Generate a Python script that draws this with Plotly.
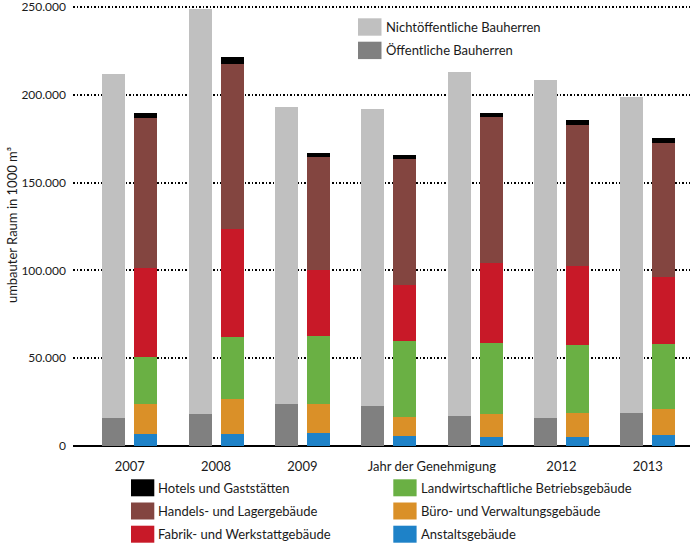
import plotly.graph_objects as go

# ---- data ----
years = [2007, 2008, 2009, 2010, 2011, 2012, 2013]
x_tickvals = [2007, 2008, 2009, 2010.5, 2012, 2013]
x_ticktext = ["2007", "2008", "2009", "Jahr der Genehmigung", "2012", "2013"]
y_tickvals = [0, 50000, 100000, 150000, 200000, 250000]

# Bauherren (grey bar)
oeffentlich = [16000, 18500, 24000, 22500, 17000, 16000, 19000]
nichtoeffentlich = [196000, 230500, 169000, 169500, 196000, 192500, 180000]

# Gebäudearten (coloured bar), bottom to top
anstalt = [6600, 7000, 7400, 5700, 5300, 4900, 6000]
buero = [17100, 19500, 16600, 10800, 13100, 13800, 15200]
landwirt = [26900, 35600, 38600, 43200, 40000, 38700, 37100]
fabrik = [50900, 61600, 37800, 32200, 45800, 45000, 37700]
handel = [85300, 94100, 64000, 71400, 83000, 80300, 76300]
hotels = [3000, 4000, 2500, 2650, 2700, 3000, 3100]

# ---- styles ----
FONT = "Lato"
FS = 13
TXT = "#1a1a1a"
BAR_W = 0.266
SHIFT = 0.185

grey_series = [
    ("Öffentliche Bauherren", oeffentlich, "#808080"),
    ("Nichtöffentliche Bauherren", nichtoeffentlich, "#c0c0c0"),
]
color_series = [
    ("Anstaltsgebäude", anstalt, "#1e82c8"),
    ("Büro- und Verwaltungsgebäude", buero, "#da9028"),
    ("Landwirtschaftliche Betriebsgebäude", landwirt, "#6ab044"),
    ("Fabrik- und Werkstattgebäude", fabrik, "#c81928"),
    ("Handels- und Lagergebäude", handel, "#834540"),
    ("Hotels und Gaststätten", hotels, "#000000"),
]

fig = go.Figure()
x_grey = [y - SHIFT for y in years]
x_col = [y + SHIFT for y in years]
for name, vals, col in grey_series:
    fig.add_trace(go.Bar(x=x_grey, y=vals, name=name, width=BAR_W,
                         marker=dict(color=col, line=dict(width=0)),
                         showlegend=False))
for name, vals, col in color_series:
    fig.add_trace(go.Bar(x=x_col, y=vals, name=name, width=BAR_W,
                         marker=dict(color=col, line=dict(width=0)),
                         showlegend=False))

# plot-area geometry in pixels (for legend placement)
L, R, T, B = 73, 690, 4, 446
def px(x):
    return (x - L) / (R - L)
def py(y):
    return (B - y) / (B - T)

shapes = []
annotations = []
def legend_item(x0, y0, w, h, col, text):
    shapes.append(dict(type="rect", xref="paper", yref="paper",
                       x0=px(x0), x1=px(x0 + w), y0=py(y0 + h), y1=py(y0),
                       fillcolor=col, line=dict(width=0), layer="above"))
    annotations.append(dict(xref="paper", yref="paper", x=px(x0 + w + 2),
                            y=py(y0 + h / 2), text=text, showarrow=False,
                            xanchor="left", yanchor="middle",
                            font=dict(family=FONT, size=FS, color=TXT)))

# top legend (Bauherren)
legend_item(358, 18.3, 23.5, 17.4, grey_series[1][2], grey_series[1][0])
legend_item(358, 41.7, 23.5, 17.4, grey_series[0][2], grey_series[0][0])

# bottom legend (Gebäudearten), two columns
col1 = [color_series[5], color_series[4], color_series[3]]
col2 = [color_series[2], color_series[1], color_series[0]]
rows_y = [479.3, 502.5, 525.7]
for (name, _, col), yy in zip(col1, rows_y):
    legend_item(131, yy, 23.3, 17, col, name)
for (name, _, col), yy in zip(col2, rows_y):
    legend_item(393.3, yy, 23.3, 17, col, name)

fig.update_layout(
    barmode="stack",
    width=692, height=546,
    margin=dict(l=L, r=692 - R, t=T, b=546 - B, autoexpand=False),
    paper_bgcolor="white", plot_bgcolor="white",
    separators=",.",
    font=dict(family=FONT, size=FS, color=TXT),
    shapes=shapes,
    annotations=annotations,
    showlegend=False,
)
fig.update_xaxes(
    range=[2006.343, 2013.489],
    tickmode="array", tickvals=x_tickvals, ticktext=x_ticktext,
    showgrid=False, zeroline=False,
    showline=False, ticks="",
    ticklabelstandoff=11,
    tickfont=dict(family=FONT, size=FS, color=TXT),
)
fig.update_yaxes(
    range=[0, 251708],
    tickmode="array", tickvals=y_tickvals, tickformat=",d",
    showgrid=True, gridcolor="#000000", gridwidth=1.5, griddash="1.5px,2px",
    zeroline=True, zerolinecolor="#000000", zerolinewidth=2,
    showline=False, ticks="",
    ticklabelstandoff=6,
    ticklabeloverflow="allow",
    tickfont=dict(family=FONT, size=12, color=TXT),
    title=dict(text="umbauter Raum in 1000 m³", standoff=0,
               font=dict(family=FONT, size=FS, color=TXT)),
)

fig.write_html("out.html",
               config={"displayModeBar": False},
               post_script="document.body.style.margin='0';"
                           "document.body.style.overflow='hidden';")
